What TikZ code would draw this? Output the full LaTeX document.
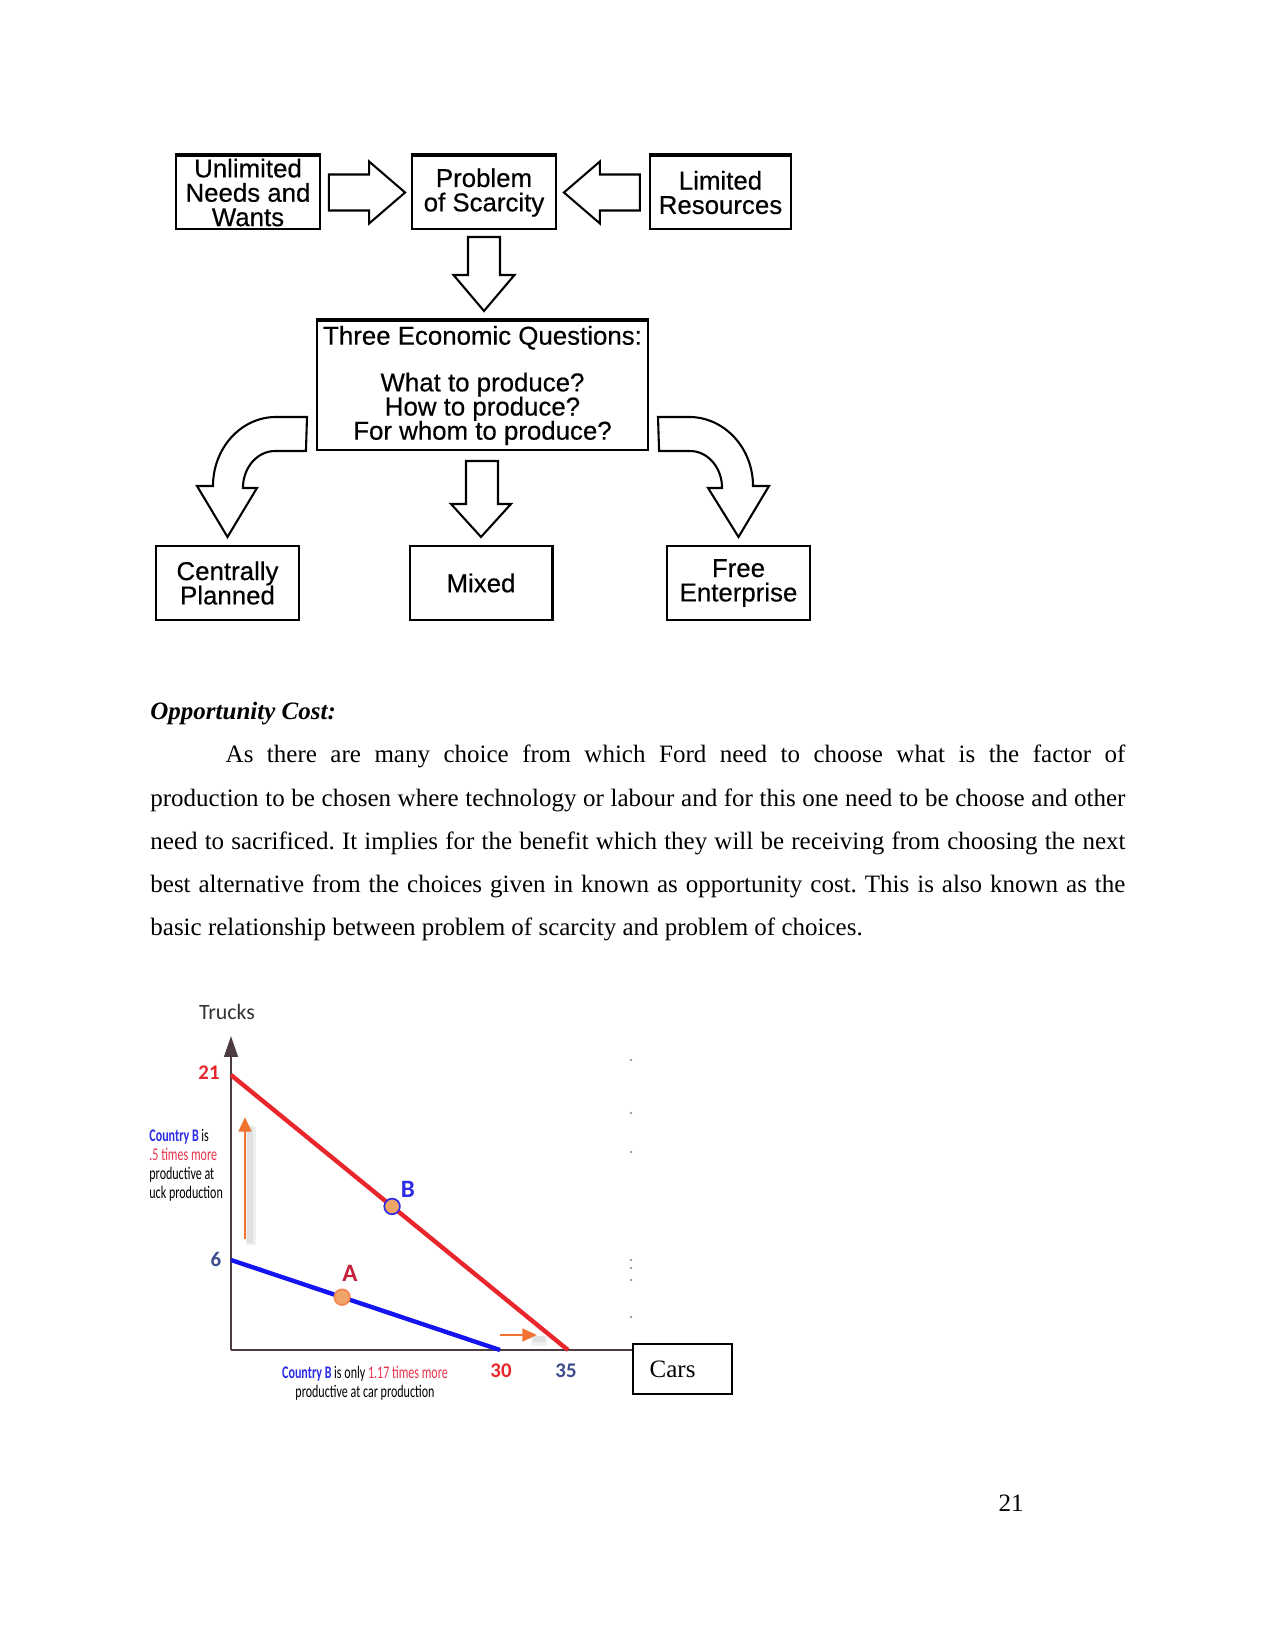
\documentclass[tikz,border=0pt]{standalone}
\usepackage{fontspec}
\setmainfont{Liberation Serif}
\newfontfamily\flowfont[FakeBold=0.4]{Liberation Sans}
\newfontfamily\chartfont{Carlito}
\newfontfamily\narrowfont[FakeStretch=0.68]{Carlito}
\usetikzlibrary{arrows.meta,calc,positioning}
\definecolor{axisgray}{HTML}{4D3B40}
\definecolor{ppfred}{HTML}{E8262C}
\definecolor{ppfblue}{HTML}{1414F0}
\definecolor{arrorange}{HTML}{F07332}
\definecolor{dotorange}{HTML}{F0A468}
\definecolor{labblue}{HTML}{2B2BE6}
\definecolor{labred}{HTML}{E8344A}
\definecolor{numblue}{HTML}{3D4A8C}
\definecolor{darkred}{HTML}{C4203C}
\newcommand{\tightlines}{\lineskiplimit=-10pt\relax}

\begin{document}
\begin{tikzpicture}[x=0.48pt, y=-0.48pt,
  box/.style={draw, line width=1pt, align=center, inner sep=0pt,
              font=\flowfont\fontsize{12.4}{11.7}\selectfont\tightlines},
  topbox/.style={box, minimum width=69pt, minimum height=35pt},
  endbox/.style={box, minimum width=68.6pt, minimum height=35.5pt},
  blockarrow/.style={draw, fill=white, line width=1pt, line join=miter},
  axisline/.style={draw=axisgray, line width=1.2pt},
  ppf/.style={line width=2.1pt},
  dot/.style={circle, fill=dotorange, minimum size=7.5pt, inner sep=0pt, line width=0.8pt},
  num/.style={font=\chartfont\bfseries\fontsize{10}{10}\selectfont},
  note/.style={font=\narrowfont\fontsize{8.5}{9.1}\selectfont, inner sep=0pt},
  shiftarrow/.style={arrorange, line width=1.4pt, -{Triangle[width=6pt,length=7pt]}},
  shadowline/.style={gray, opacity=0.12, line width=5pt}]

% page
\fill[white] (0,0) rectangle (1275,1650);
\useasboundingbox (0,0) rectangle (1275,1650);

% Draw the scarcity flow chart
\node[topbox] (unl) at (248,192.5) {Unlimited\\Needs and\\Wants};
\node[topbox] (prob) at (484,192.5) {Problem\\of Scarcity};
\node[topbox, minimum width=67.7pt] (lim) at (720.5,192.5) {Limited\\Resources};
\node[box, minimum width=158.9pt, minimum height=61.9pt,
      font=\flowfont\fontsize{12.4}{11.6}\selectfont\tightlines] (three) at (482.5,385.5)
     {Three Economic Questions:\\[10.8pt]What to produce?\\How to produce?\\For whom to produce?};
\node[endbox] (plan) at (227.5,583) {Centrally\\Planned};
\node[endbox] (mixed) at (481,583) {Mixed};
\node[endbox] (free) at (738.5,583) {Free\\Enterprise};

% heavier top edges
\foreach \n in {unl,prob,lim,three}
  \draw[line width=1.7pt] (\n.north west) -- (\n.north east);

% Block arrows
\draw[blockarrow] ($(unl.east)+(8,-18)$) -- ($(prob.west)+(-42,-18)$) -- ($(prob.west)+(-42,-31)$)
  -- ($(prob.west)+(-6,0)$) -- ($(prob.west)+(-42,31)$) -- ($(prob.west)+(-42,18)$)
  -- ($(unl.east)+(8,18)$) -- cycle;
\draw[blockarrow] ($(lim.west)+(-9,-18)$) -- ($(prob.east)+(43,-18)$) -- ($(prob.east)+(43,-31)$)
  -- ($(prob.east)+(7,0)$) -- ($(prob.east)+(43,31)$) -- ($(prob.east)+(43,18)$)
  -- ($(lim.west)+(-9,18)$) -- cycle;
\draw[blockarrow] ($(prob.south)+(-16,7)$) -- ($(three.north)+(-14.5,-45)$) -- ($(three.north)+(-29,-45)$)
  -- ($(three.north)+(1.5,-9)$) -- ($(three.north)+(32,-45)$) -- ($(three.north)+(17.5,-45)$)
  -- ($(prob.south)+(16,7)$) -- cycle;
\draw[blockarrow] ($(three.south)+(-0.5,10)$) -- ++(-16,0) -- ($(mixed.north)+(-15,-41)$) -- ($(mixed.north)+(-30,-41)$)
  -- ($(mixed.north)+(0,-8)$) -- ($(mixed.north)+(30,-41)$) -- ($(mixed.north)+(17,-41)$)
  -- ($(three.south)+(15.5,10)$) -- cycle;
\draw[blockarrow] ($(three.south west)+(-10,0)$) -- ++(-31,0)
  arc[start angle=270, end angle=180, x radius=32, y radius=37] -- ++(14,0)
  -- ($(plan.north)+(0,-8)$) -- ++(-30.5,-51) -- ++(16,0)
  arc[start angle=180, end angle=270, x radius=63, y radius=69] -- ++(31,0) -- cycle;
\draw[blockarrow] ($(three.south east)+(10,0)$) -- ++(31,0)
  arc[start angle=270, end angle=360, x radius=32, y radius=37] -- ++(-14,0)
  -- ($(free.north)+(0,-8)$) -- ++(30.5,-51) -- ++(-16,0)
  arc[start angle=0, end angle=-90, x radius=64, y radius=69] -- ++(-31,0) -- cycle;

% Text
\node[anchor=north west, text width=468pt, align=justify, inner sep=0pt,
      font=\fontsize{12}{20.7}\selectfont\frenchspacing] (para) at (150,702)
 {\textbf{\textit{Opportunity Cost:}}\\
  \hspace*{0.5in}As there are many choice from which Ford need to choose what is the factor of\linebreak
  production to be chosen where technology or labour and for this one need to be choose and other\linebreak
  need to sacrificed. It implies for the benefit which they will be receiving from choosing the next\linebreak
  best alternative from the choices given in known as opportunity cost. This is also known as the\linebreak
  basic relationship between problem of scarcity and problem of choices.};

% Production possibility chart
\coordinate (o) at (231,1350);
\coordinate (ytop) at (231,1036);
\coordinate (xend) at (632,1350);
\coordinate (r1) at (231,1075);
\coordinate (r2) at (568,1350);
\coordinate (b1) at (231,1260);
\coordinate (b2) at (500,1350);

\draw[axisline, -{Triangle[width=6.5pt,length=10pt]}] (o) -- (ytop);
\draw[axisline] (o) -- (xend);
\draw[ppf, ppfred] (r1) -- (r2);
\draw[ppf, ppfblue] (b1) -- (b2);
\path (b1) -- (b2) node[dot, draw=dotorange!80!red, pos=0.413] (ptA) {};
\path (r1) -- (r2) node[dot, draw=labblue, pos=0.478] (ptB) {};

\node[font=\chartfont\fontsize{10.5}{12}\selectfont, text=black!80] (trucks) at (227,1012) {Trucks};
\node[num, text=ppfred] (n21) at (209,1073) {21};
\node[num, text=numblue] (n6) at (216,1259) {6};
\node[num, text=ppfred] (n30) at (501,1371) {30};
\node[num, text=numblue] (n35) at (566,1371) {35};
\node[font=\chartfont\bfseries\fontsize{12}{12}\selectfont, text=darkred] (labA) at (350,1273) {A};
\node[font=\chartfont\bfseries\fontsize{12}{12}\selectfont, text=labblue] (labB) at (408,1189) {B};

% shift arrows with soft shadow
\coordinate (u1) at (245,1239);
\coordinate (u2) at (245,1117);
\coordinate (s1) at (500,1335);
\coordinate (s2) at (537,1335);
\draw[shadowline] ($(u1)+(6,6)$) -- ($(u2)+(6,10)$);
\draw[shadowline, line width=3pt] ($(u1)+(5,4)$) -- ($(u2)+(5,8)$);
\draw[shiftarrow] (u1) -- (u2);
\draw[shadowline] ($(s2)+(-6,6)$) -- ($(s2)+(10,6)$);
\draw[shadowline, line width=3pt] ($(s2)+(-4,4)$) -- ($(s2)+(8,4)$);
\draw[shiftarrow] (s1) -- (s2);

\node[note, anchor=north west, align=left] (leftnote) at (149,1129)
 {\textcolor{labblue}{\bfseries Country B} is\\
  \textcolor{labred}{.5 times more}\\
  productive at\\
  uck production};
\node[note, align=center] (botnote) at (365,1383)
 {\textcolor{labblue}{\bfseries Country B} is only \textcolor{labred}{1.17 times more}\\
  productive at car production};

% faint marks on the right
\foreach \yy in {1060,1113,1152,1260,1268,1280,1317}
  \fill[gray] (631,\yy) circle[radius=0.5pt];

\node[draw, line width=0.6pt, minimum width=47.5pt, minimum height=24pt, text width=31.5pt,
      inner xsep=8pt, align=left, font=\fontsize{12}{14}\selectfont] (cars) at (682.5,1369) {Cars};

\node[font=\fontsize{12}{14}\selectfont] (pagenum) at (1011,1503) {21};
\end{tikzpicture}
\end{document}
